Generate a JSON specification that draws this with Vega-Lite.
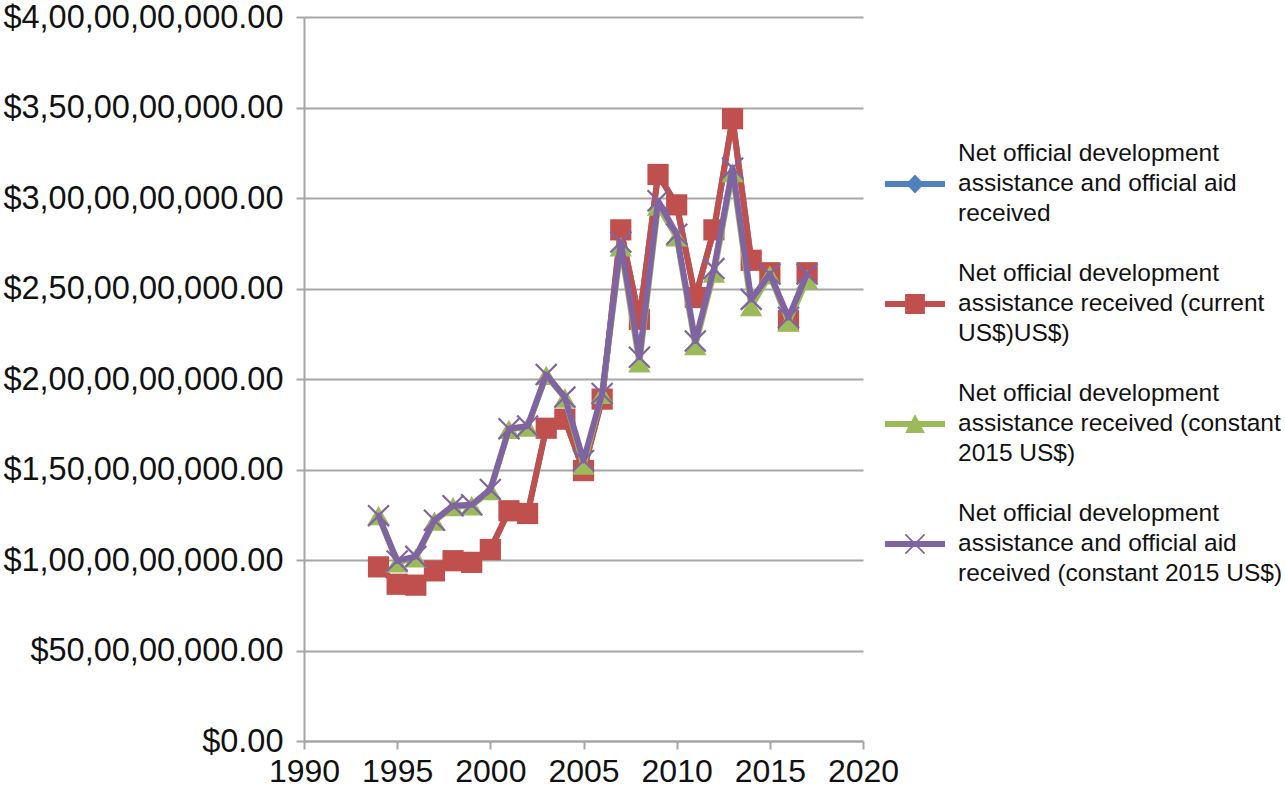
{
  "$schema": "https://vega.github.io/schema/vega-lite/v6.json",
  "autosize": "none",
  "width": 559,
  "height": 724,
  "padding": {"left": 304, "top": 17, "right": 422, "bottom": 47},
  "background": "white",
  "config": {
    "font": "Liberation Sans",
    "view": {"stroke": null},
    "style": {"guide-label": {"lineHeight": 30}},
    "axis": {
      "labelFont": "Liberation Sans",
      "labelFontSize": 32.5,
      "labelLimit": 500,
      "labelColor": "#111111",
      "domainColor": "#A6A6A6",
      "domainWidth": 2,
      "tickColor": "#A6A6A6",
      "tickWidth": 2,
      "tickSize": 8,
      "gridColor": "#A6A6A6",
      "gridWidth": 2,
      "title": null
    }
  },
  "data": {
    "values": [
      {"year": 1994, "series": "Net official development assistance and official aid received", "value": 962000000},
      {"year": 1995, "series": "Net official development assistance and official aid received", "value": 866000000},
      {"year": 1996, "series": "Net official development assistance and official aid received", "value": 861000000},
      {"year": 1997, "series": "Net official development assistance and official aid received", "value": 940000000},
      {"year": 1998, "series": "Net official development assistance and official aid received", "value": 996000000},
      {"year": 1999, "series": "Net official development assistance and official aid received", "value": 987000000},
      {"year": 2000, "series": "Net official development assistance and official aid received", "value": 1058000000},
      {"year": 2001, "series": "Net official development assistance and official aid received", "value": 1272000000},
      {"year": 2002, "series": "Net official development assistance and official aid received", "value": 1257000000},
      {"year": 2003, "series": "Net official development assistance and official aid received", "value": 1728000000},
      {"year": 2004, "series": "Net official development assistance and official aid received", "value": 1778000000},
      {"year": 2005, "series": "Net official development assistance and official aid received", "value": 1494000000},
      {"year": 2006, "series": "Net official development assistance and official aid received", "value": 1889000000},
      {"year": 2007, "series": "Net official development assistance and official aid received", "value": 2824000000},
      {"year": 2008, "series": "Net official development assistance and official aid received", "value": 2330000000},
      {"year": 2009, "series": "Net official development assistance and official aid received", "value": 3130000000},
      {"year": 2010, "series": "Net official development assistance and official aid received", "value": 2962000000},
      {"year": 2011, "series": "Net official development assistance and official aid received", "value": 2450000000},
      {"year": 2012, "series": "Net official development assistance and official aid received", "value": 2824000000},
      {"year": 2013, "series": "Net official development assistance and official aid received", "value": 3438000000},
      {"year": 2014, "series": "Net official development assistance and official aid received", "value": 2656000000},
      {"year": 2015, "series": "Net official development assistance and official aid received", "value": 2587000000},
      {"year": 2016, "series": "Net official development assistance and official aid received", "value": 2322000000},
      {"year": 2017, "series": "Net official development assistance and official aid received", "value": 2587000000},
      {"year": 1994, "series": "Net official development assistance received (current US$)US$)", "value": 962000000},
      {"year": 1995, "series": "Net official development assistance received (current US$)US$)", "value": 866000000},
      {"year": 1996, "series": "Net official development assistance received (current US$)US$)", "value": 861000000},
      {"year": 1997, "series": "Net official development assistance received (current US$)US$)", "value": 940000000},
      {"year": 1998, "series": "Net official development assistance received (current US$)US$)", "value": 996000000},
      {"year": 1999, "series": "Net official development assistance received (current US$)US$)", "value": 987000000},
      {"year": 2000, "series": "Net official development assistance received (current US$)US$)", "value": 1058000000},
      {"year": 2001, "series": "Net official development assistance received (current US$)US$)", "value": 1272000000},
      {"year": 2002, "series": "Net official development assistance received (current US$)US$)", "value": 1257000000},
      {"year": 2003, "series": "Net official development assistance received (current US$)US$)", "value": 1728000000},
      {"year": 2004, "series": "Net official development assistance received (current US$)US$)", "value": 1778000000},
      {"year": 2005, "series": "Net official development assistance received (current US$)US$)", "value": 1494000000},
      {"year": 2006, "series": "Net official development assistance received (current US$)US$)", "value": 1889000000},
      {"year": 2007, "series": "Net official development assistance received (current US$)US$)", "value": 2824000000},
      {"year": 2008, "series": "Net official development assistance received (current US$)US$)", "value": 2330000000},
      {"year": 2009, "series": "Net official development assistance received (current US$)US$)", "value": 3130000000},
      {"year": 2010, "series": "Net official development assistance received (current US$)US$)", "value": 2962000000},
      {"year": 2011, "series": "Net official development assistance received (current US$)US$)", "value": 2450000000},
      {"year": 2012, "series": "Net official development assistance received (current US$)US$)", "value": 2824000000},
      {"year": 2013, "series": "Net official development assistance received (current US$)US$)", "value": 3438000000},
      {"year": 2014, "series": "Net official development assistance received (current US$)US$)", "value": 2656000000},
      {"year": 2015, "series": "Net official development assistance received (current US$)US$)", "value": 2587000000},
      {"year": 2016, "series": "Net official development assistance received (current US$)US$)", "value": 2322000000},
      {"year": 2017, "series": "Net official development assistance received (current US$)US$)", "value": 2587000000},
      {"year": 1994, "series": "Net official development assistance received (constant 2015 US$)", "value": 1245000000},
      {"year": 1995, "series": "Net official development assistance received (constant 2015 US$)", "value": 985000000},
      {"year": 1996, "series": "Net official development assistance received (constant 2015 US$)", "value": 1012000000},
      {"year": 1997, "series": "Net official development assistance received (constant 2015 US$)", "value": 1215000000},
      {"year": 1998, "series": "Net official development assistance received (constant 2015 US$)", "value": 1295000000},
      {"year": 1999, "series": "Net official development assistance received (constant 2015 US$)", "value": 1300000000},
      {"year": 2000, "series": "Net official development assistance received (constant 2015 US$)", "value": 1383000000},
      {"year": 2001, "series": "Net official development assistance received (constant 2015 US$)", "value": 1722000000},
      {"year": 2002, "series": "Net official development assistance received (constant 2015 US$)", "value": 1735000000},
      {"year": 2003, "series": "Net official development assistance received (constant 2015 US$)", "value": 2020000000},
      {"year": 2004, "series": "Net official development assistance received (constant 2015 US$)", "value": 1895000000},
      {"year": 2005, "series": "Net official development assistance received (constant 2015 US$)", "value": 1525000000},
      {"year": 2006, "series": "Net official development assistance received (constant 2015 US$)", "value": 1915000000},
      {"year": 2007, "series": "Net official development assistance received (constant 2015 US$)", "value": 2730000000},
      {"year": 2008, "series": "Net official development assistance received (constant 2015 US$)", "value": 2090000000},
      {"year": 2009, "series": "Net official development assistance received (constant 2015 US$)", "value": 2955000000},
      {"year": 2010, "series": "Net official development assistance received (constant 2015 US$)", "value": 2785000000},
      {"year": 2011, "series": "Net official development assistance received (constant 2015 US$)", "value": 2185000000},
      {"year": 2012, "series": "Net official development assistance received (constant 2015 US$)", "value": 2585000000},
      {"year": 2013, "series": "Net official development assistance received (constant 2015 US$)", "value": 3140000000},
      {"year": 2014, "series": "Net official development assistance received (constant 2015 US$)", "value": 2400000000},
      {"year": 2015, "series": "Net official development assistance received (constant 2015 US$)", "value": 2575000000},
      {"year": 2016, "series": "Net official development assistance received (constant 2015 US$)", "value": 2315000000},
      {"year": 2017, "series": "Net official development assistance received (constant 2015 US$)", "value": 2550000000},
      {"year": 1994, "series": "Net official development assistance and official aid received (constant 2015 US$)", "value": 1245000000},
      {"year": 1995, "series": "Net official development assistance and official aid received (constant 2015 US$)", "value": 995000000},
      {"year": 1996, "series": "Net official development assistance and official aid received (constant 2015 US$)", "value": 1020000000},
      {"year": 1997, "series": "Net official development assistance and official aid received (constant 2015 US$)", "value": 1220000000},
      {"year": 1998, "series": "Net official development assistance and official aid received (constant 2015 US$)", "value": 1300000000},
      {"year": 1999, "series": "Net official development assistance and official aid received (constant 2015 US$)", "value": 1305000000},
      {"year": 2000, "series": "Net official development assistance and official aid received (constant 2015 US$)", "value": 1390000000},
      {"year": 2001, "series": "Net official development assistance and official aid received (constant 2015 US$)", "value": 1725000000},
      {"year": 2002, "series": "Net official development assistance and official aid received (constant 2015 US$)", "value": 1740000000},
      {"year": 2003, "series": "Net official development assistance and official aid received (constant 2015 US$)", "value": 2025000000},
      {"year": 2004, "series": "Net official development assistance and official aid received (constant 2015 US$)", "value": 1900000000},
      {"year": 2005, "series": "Net official development assistance and official aid received (constant 2015 US$)", "value": 1550000000},
      {"year": 2006, "series": "Net official development assistance and official aid received (constant 2015 US$)", "value": 1920000000},
      {"year": 2007, "series": "Net official development assistance and official aid received (constant 2015 US$)", "value": 2757000000},
      {"year": 2008, "series": "Net official development assistance and official aid received (constant 2015 US$)", "value": 2120000000},
      {"year": 2009, "series": "Net official development assistance and official aid received (constant 2015 US$)", "value": 2985000000},
      {"year": 2010, "series": "Net official development assistance and official aid received (constant 2015 US$)", "value": 2800000000},
      {"year": 2011, "series": "Net official development assistance and official aid received (constant 2015 US$)", "value": 2210000000},
      {"year": 2012, "series": "Net official development assistance and official aid received (constant 2015 US$)", "value": 2610000000},
      {"year": 2013, "series": "Net official development assistance and official aid received (constant 2015 US$)", "value": 3165000000},
      {"year": 2014, "series": "Net official development assistance and official aid received (constant 2015 US$)", "value": 2440000000},
      {"year": 2015, "series": "Net official development assistance and official aid received (constant 2015 US$)", "value": 2580000000},
      {"year": 2016, "series": "Net official development assistance and official aid received (constant 2015 US$)", "value": 2340000000},
      {"year": 2017, "series": "Net official development assistance and official aid received (constant 2015 US$)", "value": 2580000000}
    ]
  },
  "encoding": {
    "x": {
      "field": "year",
      "type": "quantitative",
      "scale": {"domain": [1990, 2020], "nice": false, "zero": false},
      "axis": {
        "values": [1990, 1995, 2000, 2005, 2010, 2015, 2020],
        "format": "d",
        "grid": false,
        "labelFontSize": 32,
        "labelPadding": 7,
        "labelFlush": false
      }
    },
    "y": {
      "field": "value",
      "type": "quantitative",
      "scale": {"domain": [0, 4000000000], "nice": false},
      "axis": {
        "values": [0, 500000000, 1000000000, 1500000000, 2000000000, 2500000000, 3000000000, 3500000000, 4000000000],
        "grid": true,
        "labelPadding": 13,
        "labelExpr": "datum.value == 0 ? '$0.00' : '$' + (floor(round(datum.value/1e7)/100) > 0 ? floor(round(datum.value/1e7)/100) + ',' + (round(datum.value/1e7) % 100 < 10 ? '0' : '') + (round(datum.value/1e7) % 100) : '' + round(datum.value/1e7)) + ',00,00,000.00'"
      }
    }
  },
  "layer": [
    {
      "transform": [{"filter": "datum.series == 'Net official development assistance and official aid received'"}],
      "mark": {"type": "line", "color": "#4F81BD", "strokeWidth": 6, "strokeJoin": "round", "strokeCap": "round"},
      "encoding": {}
    },
    {
      "transform": [{"filter": "datum.series == 'Net official development assistance and official aid received'"}],
      "mark": {"type": "point", "shape": "diamond", "filled": true, "opacity": 1, "color": "#4F81BD", "size": 300},
      "encoding": {}
    },
    {
      "transform": [{"filter": "datum.series == 'Net official development assistance received (current US$)US$)'"}],
      "mark": {"type": "line", "color": "#C0504D", "strokeWidth": 6, "strokeJoin": "round", "strokeCap": "round"},
      "encoding": {}
    },
    {
      "transform": [{"filter": "datum.series == 'Net official development assistance received (current US$)US$)'"}],
      "mark": {"type": "point", "shape": "square", "filled": true, "opacity": 1, "color": "#C0504D", "size": 450},
      "encoding": {}
    },
    {
      "transform": [{"filter": "datum.series == 'Net official development assistance received (constant 2015 US$)'"}],
      "mark": {"type": "line", "color": "#9BBB59", "strokeWidth": 6, "strokeJoin": "round", "strokeCap": "round"},
      "encoding": {}
    },
    {
      "transform": [{"filter": "datum.series == 'Net official development assistance received (constant 2015 US$)'"}],
      "mark": {"type": "point", "shape": "triangle-up", "filled": true, "opacity": 1, "color": "#9BBB59", "size": 500},
      "encoding": {}
    },
    {
      "transform": [{"filter": "datum.series == 'Net official development assistance and official aid received (constant 2015 US$)'"}],
      "mark": {"type": "line", "color": "#8064A2", "strokeWidth": 6, "strokeJoin": "round", "strokeCap": "round"},
      "encoding": {}
    },
    {
      "transform": [{"filter": "datum.series == 'Net official development assistance and official aid received (constant 2015 US$)'"}],
      "mark": {"type": "point", "shape": "M-1,-1L1,1M-1,1L1,-1", "filled": false, "opacity": 1, "color": "#8064A2", "strokeWidth": 2.2, "size": 440},
      "encoding": {}
    },
    {
      "mark": {"type": "point", "filled": true, "opacity": 0, "size": 3600},
      "encoding": {
        "color": {
          "field": "series",
          "type": "nominal",
          "scale": {
            "domain": [
              "Net official development assistance and official aid received",
              "Net official development assistance received (current US$)US$)",
              "Net official development assistance received (constant 2015 US$)",
              "Net official development assistance and official aid received (constant 2015 US$)"
            ],
            "range": ["#4F81BD", "#C0504D", "#9BBB59", "#8064A2"]
          },
          "legend": {
            "title": null,
            "orient": "none",
            "legendX": 581,
            "legendY": 107,
            "symbolSize": 3600,
            "symbolOpacity": 1,
            "symbolStrokeWidth": 0,
            "rowPadding": 18,
            "labelOffset": 13,
            "labelLimit": 600,
            "labelFont": "Liberation Sans",
            "labelFontSize": 24.5,
            "labelColor": "#111111",
            "labelExpr": "datum.label == 'Net official development assistance and official aid received' ? ['Net official development', 'assistance and official aid', 'received'] : datum.label == 'Net official development assistance received (current US$)US$)' ? ['Net official development', 'assistance received (current', 'US$)US$)'] : datum.label == 'Net official development assistance received (constant 2015 US$)' ? ['Net official development', 'assistance received (constant', '2015 US$)'] : ['Net official development', 'assistance and official aid', 'received (constant 2015 US$)']"
          }
        },
        "shape": {
          "field": "series",
          "type": "nominal",
          "scale": {
            "domain": [
              "Net official development assistance and official aid received",
              "Net official development assistance received (current US$)US$)",
              "Net official development assistance received (constant 2015 US$)",
              "Net official development assistance and official aid received (constant 2015 US$)"
            ],
            "range": [
              "M-1,0.9H1V1.1H-1Z M0,0.68L0.3,1L0,1.32L-0.3,1Z",
              "M-1,0.9H1V1.1H-1Z M-0.33,0.67H0.33V1.33H-0.33Z",
              "M-1,0.9H1V1.1H-1Z M0,0.67L0.33,1.3H-0.33Z",
              "M-1,0.9H1V1.1H-1Z M-0.3,0.66L0.34,1.3L0.3,1.34L-0.34,0.7Z M-0.34,1.3L0.3,0.66L0.34,0.7L-0.3,1.34Z"
            ]
          },
          "legend": {
            "title": null,
            "orient": "none",
            "legendX": 581,
            "legendY": 107,
            "symbolSize": 3600,
            "symbolOpacity": 1,
            "symbolStrokeWidth": 0,
            "rowPadding": 18,
            "labelOffset": 13,
            "labelLimit": 600,
            "labelFont": "Liberation Sans",
            "labelFontSize": 24.5,
            "labelColor": "#111111",
            "labelExpr": "datum.label == 'Net official development assistance and official aid received' ? ['Net official development', 'assistance and official aid', 'received'] : datum.label == 'Net official development assistance received (current US$)US$)' ? ['Net official development', 'assistance received (current', 'US$)US$)'] : datum.label == 'Net official development assistance received (constant 2015 US$)' ? ['Net official development', 'assistance received (constant', '2015 US$)'] : ['Net official development', 'assistance and official aid', 'received (constant 2015 US$)']"
          }
        }
      }
    }
  ]
}
